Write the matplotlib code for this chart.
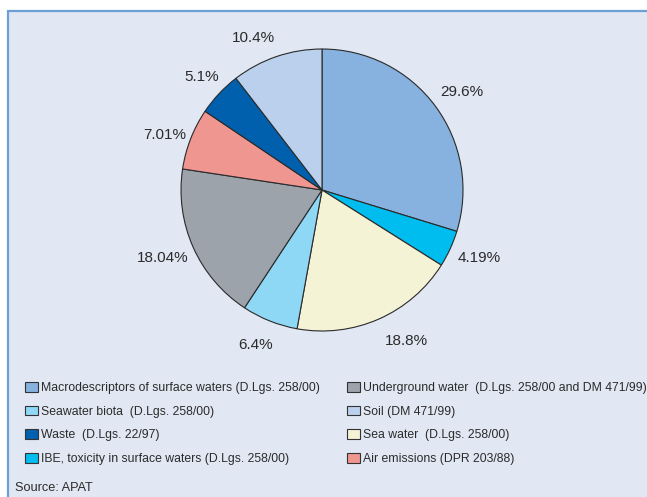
import matplotlib
matplotlib.use('Agg')
import matplotlib.pyplot as plt
from matplotlib.patches import Rectangle, Patch

plt.rcParams['font.family'] = ['Liberation Sans', 'DejaVu Sans']

# slices, clockwise from 12 o'clock
categories = ['Macrodescriptors of surface waters (D.Lgs. 258/00)',
              'IBE, toxicity in surface waters (D.Lgs. 258/00)',
              'Sea water  (D.Lgs. 258/00)',
              'Seawater biota  (D.Lgs. 258/00)',
              'Underground water  (D.Lgs. 258/00 and DM 471/99)',
              'Air emissions (DPR 203/88)',
              'Waste  (D.Lgs. 22/97)',
              'Soil (DM 471/99)']
values = [29.6, 4.19, 18.8, 6.4, 18.04, 7.01, 5.1, 10.4]
pct_labels = ['29.6%', '4.19%', '18.8%', '6.4%', '18.04%', '7.01%', '5.1%', '10.4%']
colors = ['#87b1df', '#00bdef', '#f4f3d6', '#8ed8f5', '#9ca3ab', '#ef9691', '#0060ae', '#bad0ec']

# fine placement of the percentage labels (pixels: right, down)
label_shift = [(4, 3), (3, -3), (16, -4), (-4, -2), (-5, -1), (0, 6), (3, 3), (-14, 8)]
PX_PER_UNIT = 141.0

# legend layout (two columns, as in the original)
legend_left = [0, 3, 6, 1]
legend_right = [4, 7, 2, 5]

fig = plt.figure(figsize=(6.47, 4.97), dpi=100)
fig.patch.set_facecolor('white')

# light blue panel with border
panel = Rectangle((8 / 647, -0.05), 1.0, 1 - 11 / 497 + 0.05, transform=fig.transFigure,
                  facecolor='#e1e7f3', edgecolor='#6c9fd3', linewidth=1.6, zorder=-10)
fig.patches.append(panel)

ax = fig.add_axes([0.2144, 0.2489, 0.5666, 0.7376])
ax.set_zorder(5)
ax.set_facecolor('none')
wedges, texts = ax.pie(values, labels=pct_labels, colors=colors, startangle=90,
                       counterclock=False, labeldistance=1.2,
                       wedgeprops=dict(edgecolor='#2a2a2a', linewidth=0.8),
                       textprops=dict(fontsize=11, color='#2b2b2b'))
for t, (dx, dy) in zip(texts, label_shift):
    x, y = t.get_position()
    t.set_position((x + dx / PX_PER_UNIT, y - dy / PX_PER_UNIT))
    t.set_ha('center')
ax.set_xlim(-1.3, 1.3)
ax.set_ylim(-1.3, 1.3)
ax.set_aspect('equal')
ax.axis('off')

def make_handles(idx):
    return [Patch(facecolor=colors[i], edgecolor='#333333', linewidth=0.8) for i in idx]

leg_kw = dict(loc='upper left', frameon=False, fontsize=8.8, borderpad=0, borderaxespad=0,
              handlelength=1.05, handleheight=0.85, handletextpad=0.25, labelspacing=0.94,
              labelcolor='#2b2b2b')
leg1 = fig.legend(make_handles(legend_left), [categories[i] for i in legend_left],
                  bbox_to_anchor=(25 / 647, 1 - 382 / 497), **leg_kw)
leg2 = fig.legend(make_handles(legend_right), [categories[i] for i in legend_right],
                  bbox_to_anchor=(347 / 647, 1 - 382 / 497), **leg_kw)

fig.text(15 / 647, 1 - 488 / 497, 'Source: APAT', fontsize=9.2, color='#2b2b2b', va='center')

fig.savefig('out.png', dpi=100)
